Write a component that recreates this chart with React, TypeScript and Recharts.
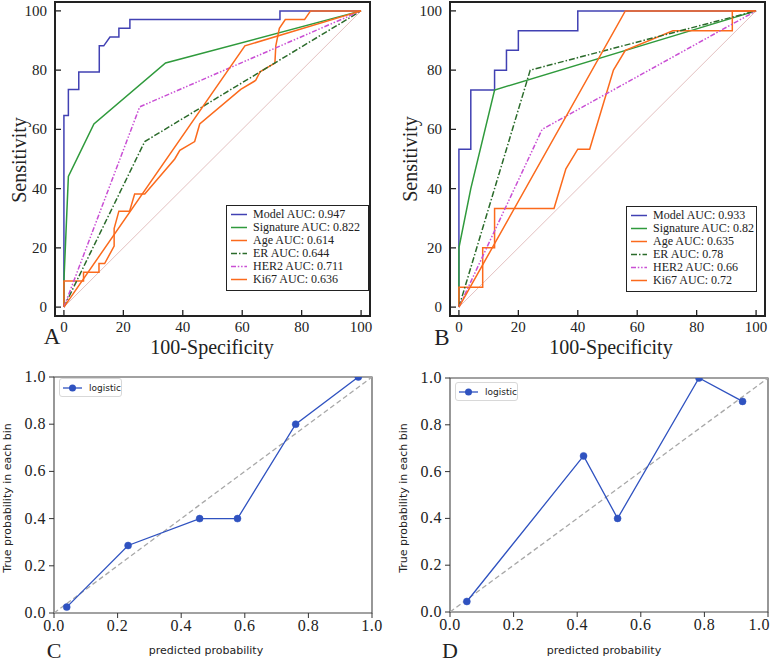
import React from "react";
import { LineChart, Line, XAxis, YAxis, ReferenceArea } from "recharts";

type Pt = { x: number; y: number };
const pts = (a: number[][]): Pt[] => a.map(([x, y]) => ({ x, y }));

const SERIF = "'Liberation Serif', 'Times New Roman', serif";
const SANS = "'DejaVu Sans', sans-serif";

// ROC tick labels
const rocTicks = [0, 20, 40, 60, 80, 100];
const calTicks = [0, 0.2, 0.4, 0.6, 0.8, 1.0];

const curveNames = ["Model", "Signature", "Age", "ER", "HER2", "Ki67"];
const aucA = ["0.947", "0.822", "0.614", "0.644", "0.711", "0.636"];
const aucB = ["0.933", "0.82", "0.635", "0.78", "0.66", "0.72"];
const curveColors = ["#4141b3", "#2f9a3c", "#fb6a1c", "#2b6b2b", "#c94fd4", "#fb6a1c"];
const curveDash = [undefined, undefined, undefined, "6 2 1.5 2", "5 1.8 1.5 1.8 1.5 1.8", undefined];

const diag = pts([[0, 0], [100, 100]]);

// panel A (training)
const modelA = pts([[0, 0], [0, 64.7], [1.5, 64.7], [1.5, 73.5], [5, 73.5], [5, 79.4], [11.9, 79.4], [11.9, 88.2], [13.4, 88.2], [15.5, 91.2], [18.5, 91.2], [18.5, 94.1], [22.2, 94.1], [22.2, 97.1], [72.7, 97.1], [72.7, 100], [100, 100]]);
const sigA = pts([[0, 0], [0, 8.8], [1.5, 44.1], [10.1, 61.8], [34.2, 82.4], [100, 100]]);
const ageA = pts([[0, 0], [0, 8.8], [6.6, 8.8], [6.6, 11.8], [11.8, 11.8], [11.8, 14.7], [13.7, 14.7], [16.9, 20.6], [16.9, 26.5], [18.5, 32.4], [22.1, 32.4], [23.8, 38.2], [27.2, 38.2], [37.3, 50], [39, 52.9], [44, 55.9], [45.7, 61.8], [59.5, 73.5], [64.5, 76.5], [66, 79.4], [71, 82.4], [71.3, 88.2], [72.5, 94.1], [74.5, 97.1], [81, 97.1], [83, 100], [100, 100]]);
const erA = pts([[0, 0], [27.2, 55.9], [100, 100]]);
const her2A = pts([[0, 0], [25.5, 67.6], [100, 100]]);
const ki67A = pts([[0, 0], [60.9, 88.2], [100, 100]]);

// panel B (validation)
const modelB = pts([[0, 0], [0, 53.3], [4, 53.3], [4, 73.3], [12, 73.3], [12, 80], [16, 80], [16, 86.7], [20, 86.7], [20, 93.3], [40, 93.3], [40, 100], [100, 100]]);
const sigB = pts([[0, 0], [0, 20], [4, 40], [12, 73.3], [100, 100]]);
const ageB = pts([[0, 0], [0, 6.7], [8, 6.7], [8, 20], [12, 20], [12, 33.3], [32, 33.3], [36, 46.7], [40, 53.3], [44, 53.3], [52, 80], [56, 86.7], [72, 93.3], [92, 93.3], [92, 100], [100, 100]]);
const erB = pts([[0, 0], [24, 80], [100, 100]]);
const her2B = pts([[0, 0], [28, 60], [100, 100]]);
const ki67B = pts([[0, 0], [56, 100], [100, 100]]);

// calibration
const calC = pts([[0.04, 0.025], [0.233, 0.286], [0.458, 0.4], [0.577, 0.4], [0.76, 0.8], [0.957, 1.0]]);
const calD = pts([[0.053, 0.045], [0.42, 0.667], [0.527, 0.4], [0.783, 1.0], [0.92, 0.9]]);
const calDiag = pts([[0, 0], [1, 1]]);
const CAL_BLUE = "#2f52c0";

const RocXTick = ({ x, y, payload }: any) => (
  <g>
    <line x1={x} x2={x} y1={y} y2={y - 6} stroke="#222" strokeWidth={1.3} />
    <text x={x} y={y + 16} textAnchor="middle" fontFamily={SERIF} fontSize={15} fill="#222">
      {payload.value}
    </text>
  </g>
);

const RocYTick = ({ x, y, payload }: any) => (
  <g>
    <line x1={x} x2={x + 6} y1={y} y2={y} stroke="#222" strokeWidth={1.3} />
    <text x={x - 8} y={y + 5} textAnchor="end" fontFamily={SERIF} fontSize={15} fill="#222">
      {payload.value}
    </text>
  </g>
);

const CalXTick = ({ x, y, payload, squeezeLast }: any) => {
  const last = squeezeLast && payload.value === 1;
  return (
    <g>
      <line x1={x} x2={x} y1={y} y2={y + 5} stroke="#333" strokeWidth={1} />
      <text x={last ? x + 2 : x} y={y + 18} textAnchor={last ? "end" : "middle"} fontFamily={SERIF} fontSize={16}
        letterSpacing={0.5} fill="#222">
        {payload.value.toFixed(1)}
      </text>
    </g>
  );
};

const CalYTick = ({ x, y, payload }: any) => (
  <g>
    <line x1={x} x2={x - 5} y1={y} y2={y} stroke="#333" strokeWidth={1} />
    <text x={x - 8} y={y + 5} textAnchor="end" fontFamily={SERIF} fontSize={16} letterSpacing={0.5} fill="#222">
      {payload.value.toFixed(1)}
    </text>
  </g>
);

const Txt = ({ cx, cy, size, font, rotate, children }: any) => (
  <div
    style={{
      position: "absolute",
      left: cx,
      top: cy,
      transform: `translate(-50%, -50%)${rotate ? ` rotate(${rotate}deg)` : ""}`,
      fontFamily: font,
      fontSize: size,
      color: "#222",
      whiteSpace: "nowrap",
      lineHeight: 1,
    }}
  >
    {children}
  </div>
);

const RocLegend = ({ left, top, width, auc }: any) => (
  <div
    style={{
      position: "absolute",
      left,
      top,
      width,
      boxSizing: "border-box",
      border: "1.5px solid #222",
      background: "#fff",
      padding: "2px 0 4px 4px",
      fontFamily: SERIF,
      fontSize: 12,
      color: "#222",
    }}
  >
    {curveNames.map((n, i) => (
      <div key={n} style={{ height: 13, display: "flex", alignItems: "center" }}>
        <svg width={16} height={13} style={{ marginRight: 6 }}>
          <line x1={0} x2={16} y1={6.5} y2={6.5} stroke={curveColors[i]} strokeWidth={1.5} strokeDasharray={curveDash[i]} />
        </svg>
        <span>{`${n} AUC: ${auc[i]}`}</span>
      </div>
    ))}
  </div>
);

const RocChart = ({ curves }: { curves: Pt[][] }) => (
  <LineChart width={380} height={340} margin={{ top: 2, right: 10, left: 0, bottom: 0 }}>
    <XAxis dataKey="x" type="number" domain={[-3, 103]} ticks={rocTicks} interval={0} allowDataOverflow
      height={24} tickSize={0} tickMargin={0} tickLine={false} axisLine={false} tick={<RocXTick />} />
    <YAxis dataKey="y" type="number" domain={[-3, 103]} ticks={rocTicks} interval={0} allowDataOverflow
      width={55} tickSize={0} tickMargin={0} tickLine={false} axisLine={false} tick={<RocYTick />} />
    <Line data={diag} dataKey="y" stroke="#e3c0c0" strokeWidth={1} dot={false} activeDot={false} isAnimationActive={false} />
    {curves.map((c, i) => (
      <Line key={i} data={c} dataKey="y" stroke={curveColors[i]} strokeWidth={1.5} strokeDasharray={curveDash[i]}
        dot={false} activeDot={false} isAnimationActive={false} />
    ))}
    <ReferenceArea x1={-3} x2={103} y1={-3} y2={103} fill="none" fillOpacity={0} stroke="#222" strokeWidth={2} />
  </LineChart>
);

const CalChart = ({ data, top, squeezeLast }: { data: Pt[]; top: number; squeezeLast?: boolean }) => (
  <LineChart width={392} height={253 + 22 - (top - 17)} margin={{ top, right: 20, left: 0, bottom: 0 }}>
    <XAxis dataKey="x" type="number" domain={[0, 1]} ticks={calTicks} interval={0} allowDataOverflow
      height={22} tickSize={0} tickMargin={0} tickLine={false} axisLine={false} tick={<CalXTick squeezeLast={squeezeLast} />} />
    <YAxis dataKey="y" type="number" domain={[0, 1]} ticks={calTicks} interval={0} allowDataOverflow
      width={54} tickSize={0} tickMargin={0} tickLine={false} axisLine={false} tick={<CalYTick />} />
    <Line data={calDiag} dataKey="y" stroke="#a8a8a8" strokeWidth={1.3} strokeDasharray="5 3" dot={false} activeDot={false} isAnimationActive={false} />
    <Line data={data} dataKey="y" stroke={CAL_BLUE} strokeWidth={1.3}
      dot={{ r: 3.5, fill: CAL_BLUE, stroke: CAL_BLUE, strokeWidth: 0.5 }} activeDot={false} isAnimationActive={false} />
    <ReferenceArea x1={0} x2={1} y1={0} y2={1} fill="none" fillOpacity={0} stroke="#444" strokeWidth={1.1} />
  </LineChart>
);

const CalLegend = ({ left, top }: any) => (
  <div
    style={{
      position: "absolute",
      left,
      top,
      width: 63,
      height: 19,
      boxSizing: "border-box",
      border: "1px solid #d8d8d8",
      borderRadius: 3,
      background: "#fff",
      display: "flex",
      alignItems: "center",
      paddingLeft: 3,
      fontFamily: SANS,
      fontSize: 9,
      color: "#222",
    }}
  >
    <svg width={19} height={10} style={{ marginRight: 7 }}>
      <line x1={0} x2={19} y1={5} y2={5} stroke={CAL_BLUE} strokeWidth={1.3} />
      <circle cx={9.5} cy={5} r={3.5} fill={CAL_BLUE} />
    </svg>
    <span>logistic</span>
  </div>
);

export default function App() {
  return (
    <div style={{ position: "absolute", left: 0, top: 0, width: 777, height: 663, background: "#fff", overflow: "hidden" }}>
      <div style={{ position: "absolute", left: 0, top: 0 }}>
        <RocChart curves={[modelA, sigA, ageA, erA, her2A, ki67A]} />
      </div>
      <div style={{ position: "absolute", left: 395, top: 0 }}>
        <RocChart curves={[modelB, sigB, ageB, erB, her2B, ki67B]} />
      </div>
      <div style={{ position: "absolute", left: 0, top: 360 }}>
        <CalChart data={calC} top={17} />
      </div>
      <div style={{ position: "absolute", left: 396, top: 360 }}>
        <CalChart data={calD} top={18} squeezeLast />
      </div>

      <RocLegend left={226} top={205} width={143} auc={aucA} />
      <RocLegend left={626} top={206} width={131} auc={aucB} />
      <CalLegend left={59} top={378} />
      <CalLegend left={455} top={382} />

      <Txt cx={19} cy={160} size={20} font={SERIF} rotate={-90}>Sensitivity</Txt>
      <Txt cx={410} cy={159} size={20} font={SERIF} rotate={-90}>Sensitivity</Txt>
      <Txt cx={212} cy={347} size={20} font={SERIF}>100-Specificity</Txt>
      <Txt cx={611} cy={347} size={20} font={SERIF}>100-Specificity</Txt>
      <Txt cx={52} cy={336} size={23} font={SERIF}>A</Txt>
      <Txt cx={442} cy={337} size={23} font={SERIF}>B</Txt>
      <Txt cx={54} cy={651} size={22} font={SERIF}>C</Txt>
      <Txt cx={450} cy={651} size={22} font={SERIF}>D</Txt>

      <Txt cx={7} cy={498} size={11} font={SANS} rotate={-90}>True probability in each bin</Txt>
      <Txt cx={403} cy={498} size={11} font={SANS} rotate={-90}>True probability in each bin</Txt>
      <Txt cx={206} cy={650} size={11} font={SANS}>predicted probability</Txt>
      <Txt cx={604} cy={650} size={11} font={SANS}>predicted probability</Txt>
    </div>
  );
}
